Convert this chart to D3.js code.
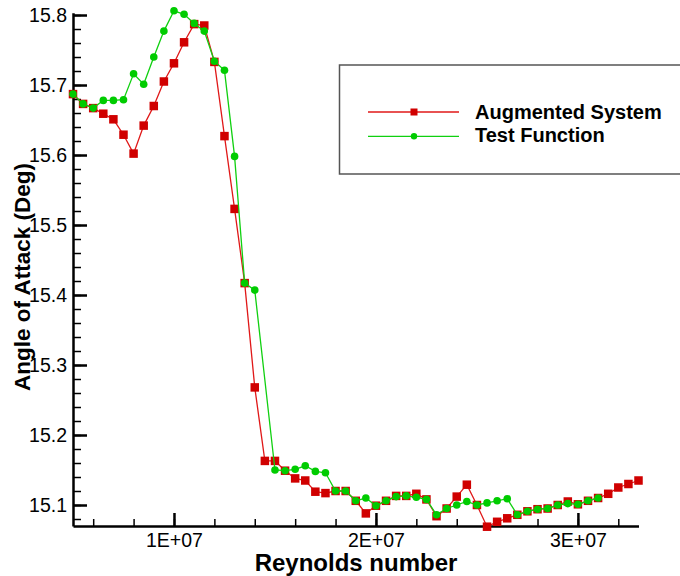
<!DOCTYPE html>
<html>
<head>
<meta charset="utf-8">
<script src="https://cdn.jsdelivr.net/npm/d3@7"></script>
<style>
body { margin: 0; background: #fff; }
text { font-family: "Liberation Sans", Arial, sans-serif; }
</style>
</head>
<body>
<svg id="chart" width="680" height="576"></svg>
<script>
// reynolds numbers, in millions
var reynolds = [5, 5.5, 6, 6.5, 7, 7.5, 8, 8.5, 9, 9.5, 10, 10.5, 11, 11.5, 12, 12.5,
    13, 13.5, 14, 14.5, 15, 15.5, 16, 16.5, 17, 17.5, 18, 18.5, 19, 19.5, 20, 20.5,
    21, 21.5, 22, 22.5, 23, 23.5, 24, 24.5, 25, 25.5, 26, 26.5, 27, 27.5, 28, 28.5,
    29, 29.5, 30, 30.5, 31, 31.5, 32, 32.5, 33];

var augmented = [15.687, 15.673, 15.667, 15.659, 15.651, 15.629, 15.602, 15.642,
    15.670, 15.705, 15.731, 15.761, 15.787, 15.785, 15.733, 15.627, 15.523, 15.417,
    15.268, 15.163, 15.163, 15.149, 15.138, 15.135, 15.119, 15.117, 15.120, 15.120,
    15.106, 15.088, 15.099, 15.106, 15.113, 15.113, 15.116, 15.108, 15.084, 15.095,
    15.112, 15.129, 15.100, 15.069, 15.076, 15.081, 15.086, 15.091, 15.094, 15.095,
    15.100, 15.105, 15.101, 15.106, 15.110, 15.116, 15.125, 15.130, 15.135];

// null = no point at that reynolds number
var testFunction = [15.687, 15.673, 15.667, 15.678, 15.678, 15.679, 15.716, 15.701,
    15.740, 15.777, 15.806, 15.801, 15.788, 15.777, 15.734, 15.721, 15.598, 15.417,
    15.407, null, 15.150, 15.149, 15.151, 15.156, 15.148, 15.146, 15.120, 15.120,
    15.106, 15.110, 15.099, 15.106, 15.112, 15.113, 15.111, 15.108, 15.086, 15.095,
    15.100, 15.105, 15.100, 15.103, 15.106, 15.109, 15.086, 15.091, 15.094, 15.095,
    15.100, 15.102, 15.101, 15.106, 15.110, null, null, null, null];

var xTicks = [1e7, 2e7, 3e7];
var yTicks = [15.1, 15.2, 15.3, 15.4, 15.5, 15.6, 15.7, 15.8];
var seriesNames = ["Augmented System", "Test Function"];

var svg = d3.select("#chart");

var x = d3.scaleLinear().domain([5e6, 3.3e7]).range([73, 638.5]);
var y = d3.scaleLinear().domain([15.07, 15.8033]).range([526, 12.7]);

// minor ticks first
var xMinor = d3.range(6e6, 3.3e7, 2e6);
var yMinor = d3.range(15.08, 15.801, 0.02);

svg.append("g")
    .attr("transform", "translate(0,526)")
    .call(d3.axisBottom(x).tickValues(xMinor).tickSizeInner(-7).tickSizeOuter(0).tickFormat(""))
    .call(function(g) { g.select(".domain").remove(); g.selectAll("line").attr("stroke-width", 1.5); });

svg.append("g")
    .attr("transform", "translate(73,0)")
    .call(d3.axisLeft(y).tickValues(yMinor).tickSizeInner(-8).tickSizeOuter(0).tickFormat(""))
    .call(function(g) { g.select(".domain").remove(); g.selectAll("line").attr("stroke-width", 1.5); });

var xAxis = svg.append("g")
    .attr("transform", "translate(0,526)")
    .call(d3.axisBottom(x).tickValues(xTicks).tickSizeInner(-13).tickSizeOuter(0)
        .tickFormat(function(d) { return (d / 1e7) + "E+07"; }));
xAxis.select(".domain").attr("stroke-width", 2.5);
xAxis.selectAll("line").attr("stroke-width", 2.5);
xAxis.selectAll("text").attr("y", 21).attr("dy", 0)
    .style("font-size", "19.5px").style("font-family", "'Liberation Sans', Arial, sans-serif").attr("fill", "#000");

var yAxis = svg.append("g")
    .attr("transform", "translate(73,0)")
    .call(d3.axisLeft(y).tickValues(yTicks).tickSizeInner(-14).tickSizeOuter(0).tickPadding(6)
        .tickFormat(d3.format(".1f")));
yAxis.select(".domain").attr("stroke-width", 2.5);
yAxis.selectAll("line").attr("stroke-width", 2.5);
yAxis.selectAll("text")
    .style("font-size", "19.5px").style("font-family", "'Liberation Sans', Arial, sans-serif").attr("fill", "#000");

// axis titles
svg.append("text")
    .attr("x", 356).attr("y", 571)
    .attr("text-anchor", "middle")
    .style("font-size", "24px").style("font-weight", "bold")
    .text("Reynolds number");

svg.append("text")
    .attr("transform", "translate(29.5,277) rotate(-90)")
    .attr("text-anchor", "middle")
    .style("font-size", "22.5px").style("font-weight", "bold")
    .text("Angle of Attack (Deg)");

// series
var redPts = reynolds.map(function(r, i) { return [r * 1e6, augmented[i]]; });
var greenPts = reynolds.map(function(r, i) { return [r * 1e6, testFunction[i]]; })
    .filter(function(p) { return p[1] != null; });

var line = d3.line()
    .x(function(d) { return x(d[0]); })
    .y(function(d) { return y(d[1]); });

svg.append("path").datum(redPts)
    .attr("d", line).attr("fill", "none")
    .attr("stroke", "#e01818").attr("stroke-width", 1.3);

svg.selectAll(".sq").data(redPts).enter().append("rect")
    .attr("class", "sq")
    .attr("x", function(d) { return x(d[0]) - 4.25; })
    .attr("y", function(d) { return y(d[1]) - 4.25; })
    .attr("width", 8.5).attr("height", 8.5)
    .attr("fill", "#d00000");

svg.append("path").datum(greenPts)
    .attr("d", line).attr("fill", "none")
    .attr("stroke", "#10d010").attr("stroke-width", 1.3);

svg.selectAll(".dot").data(greenPts).enter().append("circle")
    .attr("class", "dot")
    .attr("cx", function(d) { return x(d[0]); })
    .attr("cy", function(d) { return y(d[1]); })
    .attr("r", 3.8)
    .attr("fill", "#00cc00");

// legend
var legend = svg.append("g");
legend.append("rect")
    .attr("x", 339.5).attr("y", 65).attr("width", 360).attr("height", 109)
    .attr("fill", "#fff").attr("stroke", "#555").attr("stroke-width", 1.5);

legend.append("line").attr("x1", 368).attr("x2", 459).attr("y1", 112).attr("y2", 112)
    .attr("stroke", "#e01818").attr("stroke-width", 1.3);
legend.append("rect").attr("x", 410.5).attr("y", 108.5).attr("width", 7).attr("height", 7)
    .attr("fill", "#d00000");
legend.append("line").attr("x1", 368).attr("x2", 459).attr("y1", 136.3).attr("y2", 136.3)
    .attr("stroke", "#10d010").attr("stroke-width", 1.3);
legend.append("circle").attr("cx", 414).attr("cy", 136.3).attr("r", 3.2)
    .attr("fill", "#00cc00");

legend.selectAll(".lbl").data(seriesNames).enter().append("text")
    .attr("class", "lbl")
    .attr("x", 475)
    .attr("y", function(d, i) { return i == 0 ? 118.5 : 141.7; })
    .style("font-size", "20px").style("font-weight", "bold")
    .text(function(d) { return d; });
</script>
</body>
</html>
